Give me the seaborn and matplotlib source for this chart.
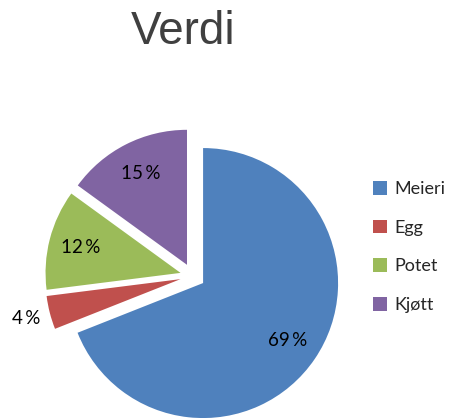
import matplotlib
matplotlib.use("Agg")
import matplotlib.pyplot as plt
import seaborn as sns
import numpy as np

sns.set_theme(style="white")
plt.rcParams['font.family'] = ['Lato', 'DejaVu Sans']

categories = ["Meieri", "Egg", "Potet", "Kjøtt"]
values = [69, 4, 12, 15]
colors = ["#4F81BD", "#C0504D", "#9BBB59", "#8064A2"]
title = "Verdi"

W, H = 450, 418
fig = plt.figure(figsize=(W / 100, H / 100), dpi=100)
ax = fig.add_axes([0, 0, 1, 1])

R = 135.0
cx, cy = 192.7, 276.0  # pixel position of pie center (from top)

wedges, texts, autotexts = ax.pie(
    values, colors=colors, startangle=90, counterclock=False,
    explode=[0.093] * len(values), radius=1.0,
    autopct=lambda p: f"{p:.0f}\u2009%", pctdistance=0.76,
    wedgeprops=dict(linewidth=0), textprops=dict(fontsize=13.5, color="#000000"),
)

# Egg label sits outside its slice
w = wedges[1]
ang = np.deg2rad((w.theta1 + w.theta2) / 2)
x0, y0 = w.center
autotexts[1].set_position((x0 + 1.18 * np.cos(ang), y0 + 1.18 * np.sin(ang)))

ax.set_xlim(-cx / R, (W - cx) / R)
ax.set_ylim(-(H - cy) / R, cy / R)
ax.set_aspect('auto')
ax.axis('off')

fig.text(183 / W, 1 - 32 / H, title, ha='center', va='center', fontsize=33,
         color='#404040', family=['Liberation Sans', 'DejaVu Sans'])

leg = fig.legend(wedges, categories, loc='center left',
                 bbox_to_anchor=(364 / W, 1 - 247 / H), frameon=False,
                 fontsize=13, handlelength=0.8, handleheight=0.8,
                 handletextpad=0.4, labelspacing=1.25, borderpad=0)

fig.savefig("out.png", dpi=100)
